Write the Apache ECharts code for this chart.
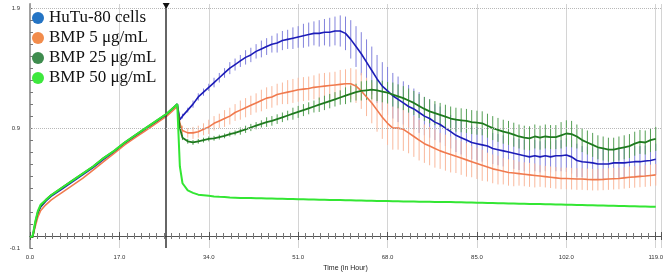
<!DOCTYPE html>
<html>
<head>
<meta charset="utf-8" />
<title>Normalized Cell Index</title>
<script src="https://cdn.jsdelivr.net/npm/echarts@6/dist/echarts.min.js"></script>
</head>
<body style="margin:0">
<div id="main" style="width:663px;height:273px"></div>
<script type="text/javascript">
// time points (hours)
var hours = [0, 0.5, 1, 1.5, 2, 3, 4, 5, 6, 8, 10, 12, 14, 16, 18, 20, 22, 24, 26, 27, 28, 28.5,
  29, 30, 31, 32, 33, 34, 35, 36, 37, 38, 39, 40, 41, 42, 43, 44, 45, 46, 47, 48,
  49, 50, 51, 52, 53, 54, 55, 56, 57, 58, 59, 60, 61, 62, 63, 64, 65, 66, 67, 68,
  69, 70, 71, 72, 73, 74, 75, 76, 77, 78, 79, 80, 81, 82, 83, 84, 85, 86, 87, 88,
  89, 90, 91, 92, 93, 94, 95, 96, 97, 98, 99, 100, 101, 102, 103, 104, 105, 106, 107, 108,
  109, 110, 111, 112, 113, 114, 115, 116, 117, 118, 119];

var hutu = [-0.01, -0.01, 0.10, 0.19, 0.24, 0.29, 0.33, 0.36, 0.39, 0.45, 0.51, 0.57, 0.64, 0.70, 0.77, 0.83, 0.89, 0.95, 1.01, 1.05, 1.10, 0.97,
  1.00, 1.05, 1.10, 1.16, 1.20, 1.24, 1.28, 1.32, 1.36, 1.40,
  1.43, 1.46, 1.49, 1.51, 1.54, 1.56, 1.58, 1.60, 1.61, 1.63,
  1.64, 1.65, 1.66, 1.67, 1.68, 1.69, 1.69, 1.70, 1.70, 1.71,
  1.71, 1.69, 1.64, 1.58, 1.52, 1.45, 1.38, 1.31, 1.25, 1.21,
  1.17, 1.14, 1.11, 1.08, 1.06, 1.03, 1.00, 0.98, 0.95, 0.93,
  0.90, 0.87, 0.84, 0.82, 0.80, 0.78, 0.77, 0.76, 0.75, 0.73,
  0.72, 0.71, 0.70, 0.69, 0.68, 0.67, 0.66, 0.67, 0.66, 0.67,
  0.66, 0.67, 0.67, 0.675, 0.66, 0.63, 0.62, 0.615, 0.61, 0.60,
  0.60, 0.60, 0.61, 0.61, 0.61, 0.615, 0.62, 0.62, 0.625, 0.63, 0.64];
// error half-widths, from 29 h on
var hutuErr = [0.02, 0.02, 0.03, 0.03, 0.03, 0.03, 0.04, 0.04, 0.04, 0.05,
  0.05, 0.05, 0.06, 0.06, 0.06, 0.07, 0.07, 0.07, 0.08, 0.08,
  0.08, 0.09, 0.09, 0.10, 0.10, 0.10, 0.11, 0.11, 0.12, 0.12,
  0.13, 0.14, 0.16, 0.17, 0.18, 0.19, 0.20, 0.20, 0.20, 0.20,
  0.19, 0.19, 0.18, 0.18, 0.17, 0.17, 0.16, 0.16, 0.15, 0.15,
  0.15, 0.14, 0.14, 0.14, 0.14, 0.14, 0.14, 0.14, 0.13, 0.13,
  0.13, 0.13, 0.13, 0.13, 0.13, 0.13, 0.13, 0.13, 0.13, 0.13,
  0.13, 0.13, 0.13, 0.14, 0.14, 0.14, 0.13, 0.13, 0.13, 0.13,
  0.13, 0.13, 0.13, 0.13, 0.13, 0.13, 0.13, 0.13, 0.13, 0.13, 0.13];

var bmp5 = [-0.01, -0.01, 0.08, 0.16, 0.21, 0.26, 0.30, 0.33, 0.36, 0.42, 0.48, 0.55, 0.62, 0.69, 0.76, 0.82, 0.88, 0.94, 1.00, 1.04, 1.08, 0.94,
  0.88, 0.86, 0.86, 0.87, 0.89, 0.91, 0.94, 0.96, 0.98, 1.00,
  1.03, 1.05, 1.07, 1.09, 1.11, 1.13, 1.15, 1.16, 1.18, 1.19,
  1.20, 1.21, 1.22, 1.225, 1.23, 1.24, 1.245, 1.25, 1.255, 1.26,
  1.265, 1.27, 1.27, 1.25, 1.21, 1.16, 1.11, 1.05, 0.99, 0.94,
  0.90, 0.90, 0.89, 0.86, 0.83, 0.80, 0.77, 0.75, 0.73, 0.71,
  0.695, 0.68, 0.665, 0.65, 0.635, 0.62, 0.605, 0.59, 0.575, 0.56,
  0.55, 0.54, 0.53, 0.525, 0.52, 0.515, 0.51, 0.505, 0.50, 0.495,
  0.49, 0.485, 0.48, 0.48, 0.478, 0.475, 0.475, 0.472, 0.47, 0.47,
  0.472, 0.475, 0.478, 0.48, 0.485, 0.49, 0.493, 0.497, 0.50, 0.505, 0.51];
var bmp5Err = [0.04, 0.04, 0.05, 0.05, 0.05, 0.06, 0.06, 0.06, 0.07, 0.07,
  0.07, 0.08, 0.08, 0.08, 0.08, 0.09, 0.09, 0.09, 0.09, 0.09,
  0.10, 0.10, 0.10, 0.10, 0.10, 0.10, 0.11, 0.11, 0.11, 0.11,
  0.12, 0.12, 0.13, 0.14, 0.15, 0.16, 0.17, 0.18, 0.18, 0.18,
  0.18, 0.18, 0.18, 0.17, 0.17, 0.17, 0.16, 0.16, 0.16, 0.15,
  0.15, 0.15, 0.14, 0.14, 0.14, 0.13, 0.13, 0.13, 0.12, 0.12,
  0.12, 0.11, 0.11, 0.11, 0.10, 0.10, 0.10, 0.10, 0.09, 0.09,
  0.09, 0.09, 0.09, 0.09, 0.09, 0.09, 0.09, 0.09, 0.09, 0.09,
  0.09, 0.09, 0.09, 0.09, 0.09, 0.09, 0.09, 0.09, 0.09, 0.09, 0.09];

var bmp25 = [-0.01, -0.01, 0.11, 0.20, 0.25, 0.30, 0.34, 0.37, 0.40, 0.46, 0.52, 0.58, 0.65, 0.71, 0.78, 0.84, 0.90, 0.96, 1.02, 1.06, 1.10, 0.90,
  0.82, 0.79, 0.78, 0.79, 0.80, 0.81, 0.815, 0.825, 0.835, 0.85,
  0.86, 0.875, 0.89, 0.905, 0.92, 0.935, 0.95, 0.96, 0.975, 0.99,
  1.005, 1.02, 1.035, 1.05, 1.065, 1.08, 1.095, 1.11, 1.125, 1.14,
  1.155, 1.17, 1.185, 1.20, 1.21, 1.215, 1.22, 1.215, 1.205, 1.195,
  1.18, 1.165, 1.15, 1.13, 1.11, 1.085, 1.06, 1.04, 1.025, 1.01,
  0.995, 0.98, 0.97, 0.965, 0.96, 0.95, 0.945, 0.94, 0.92, 0.90,
  0.885, 0.87, 0.86, 0.845, 0.83, 0.82, 0.815, 0.83, 0.82, 0.83,
  0.825, 0.825, 0.84, 0.855, 0.85, 0.83, 0.80, 0.78, 0.76, 0.74,
  0.73, 0.72, 0.72, 0.73, 0.74, 0.75, 0.77, 0.785, 0.78, 0.80, 0.81];
var bmp25Err = [0.02, 0.02, 0.02, 0.02, 0.02, 0.02, 0.02, 0.02, 0.02, 0.02,
  0.02, 0.03, 0.03, 0.03, 0.03, 0.03, 0.04, 0.04, 0.04, 0.04,
  0.04, 0.05, 0.05, 0.05, 0.05, 0.05, 0.06, 0.06, 0.06, 0.06,
  0.06, 0.07, 0.07, 0.07, 0.08, 0.08, 0.08, 0.09, 0.09, 0.09,
  0.10, 0.10, 0.10, 0.10, 0.10, 0.10, 0.10, 0.10, 0.10, 0.10,
  0.10, 0.10, 0.10, 0.10, 0.10, 0.10, 0.10, 0.10, 0.10, 0.10,
  0.10, 0.10, 0.10, 0.10, 0.10, 0.10, 0.10, 0.10, 0.10, 0.10,
  0.10, 0.10, 0.11, 0.11, 0.11, 0.10, 0.10, 0.10, 0.10, 0.10,
  0.10, 0.10, 0.10, 0.10, 0.10, 0.10, 0.10, 0.10, 0.10, 0.10, 0.10];

var bmp50 = [-0.01, 0.00, 0.12, 0.21, 0.26, 0.30, 0.34, 0.37, 0.40, 0.46, 0.52, 0.58, 0.65, 0.71, 0.78, 0.84, 0.90, 0.96, 1.02, 1.06, 1.10, 0.58,
  0.44, 0.38, 0.36, 0.345, 0.34, 0.335, 0.33, 0.327, 0.325, 0.322,
  0.32, 0.318, 0.317, 0.316, 0.315, 0.314, 0.313, 0.312, 0.311, 0.31,
  0.309, 0.308, 0.307, 0.306, 0.305, 0.304, 0.303, 0.302, 0.301, 0.30,
  0.30, 0.299, 0.298, 0.297, 0.296, 0.295, 0.294, 0.293, 0.292, 0.291,
  0.29, 0.289, 0.288, 0.287, 0.287, 0.286, 0.285, 0.285, 0.284, 0.284,
  0.283, 0.283, 0.282, 0.281, 0.28, 0.279, 0.278, 0.277, 0.276, 0.275,
  0.274, 0.273, 0.272, 0.271, 0.27, 0.269, 0.268, 0.267, 0.266, 0.265,
  0.264, 0.263, 0.262, 0.261, 0.26, 0.259, 0.258, 0.257, 0.256, 0.255,
  0.254, 0.253, 0.252, 0.251, 0.25, 0.249, 0.248, 0.247, 0.246, 0.245, 0.244];

var seriesNames = ['HuTu-80 cells', 'BMP 5 μg/mL', 'BMP 25 μg/mL', 'BMP 50 μg/mL'];
var yLabelValues = [-0.1, 0.9, 1.9];
var yTickValues = [-0.1, 0, 0.1, 0.2, 0.3, 0.4, 0.5, 0.6, 0.7, 0.8, 0.9, 1.0,
  1.1, 1.2, 1.3, 1.4, 1.5, 1.6, 1.7, 1.8, 1.9];
var treatmentHour = 25.9;

var lineColors = ['#1c1cb8', '#f07a4e', '#1e7a1e', '#33e633'];
var errColors = ['#8282dc', '#f9b89c', '#559f55'];
var legendColors = ['#2474c4', '#f28c4c', '#3e8c4e', '#3de83d'];

function pairs(vals) {
  return hours.map(function (h, i) { return [h, vals[i]]; });
}

function bars(vals, errs) {
  var off = hours.length - errs.length;
  return errs.map(function (e, i) { return [hours[off + i], vals[off + i], e]; });
}

function errSeries(name, vals, errs, color) {
  return {
    type: 'custom',
    name: name,
    silent: true,
    z: 1,
    data: bars(vals, errs),
    encode: { x: 0, y: 1 },
    renderItem: function (params, api) {
      var lo = api.coord([api.value(0), api.value(1) - api.value(2)]);
      var hi = api.coord([api.value(0), api.value(1) + api.value(2)]);
      return {
        type: 'line',
        shape: { x1: lo[0], y1: lo[1], x2: hi[0], y2: hi[1] },
        style: { stroke: color, lineWidth: 1 }
      };
    }
  };
}

function lineSeries(idx, vals, width) {
  return {
    type: 'line',
    name: seriesNames[idx],
    data: pairs(vals),
    showSymbol: false,
    z: 2 + idx,
    lineStyle: { color: lineColors[idx], width: width },
    itemStyle: { color: lineColors[idx] }
  };
}

var chart = echarts.init(document.getElementById('main'));
var numFmt = function (v) { return v.toFixed(1); };

var option = {
  animation: false,
  backgroundColor: '#fff',
  grid: { left: 30, right: 2, top: 4, bottom: 25, outerBoundsMode: 'none', containLabel: false },
  legend: {
    orient: 'vertical',
    left: 32,
    top: 8,
    padding: 0,
    itemGap: 0,
    itemWidth: 12,
    itemHeight: 12,
    icon: 'circle',
    textStyle: { fontFamily: 'Liberation Serif', fontSize: 17, color: '#111', lineHeight: 20 },
    data: seriesNames.map(function (n, i) {
      return { name: n, itemStyle: { color: legendColors[i] } };
    })
  },
  xAxis: [
    {
      type: 'value', min: 0, max: 120, interval: 17, position: 'bottom',
      name: 'Time (in Hour)', nameLocation: 'middle', nameGap: 13,
      nameTextStyle: { fontSize: 7, color: '#222' },
      axisLine: { lineStyle: { color: '#555' } },
      axisTick: { inside: true, length: 4, lineStyle: { color: '#555' } },
      minorTick: { show: true, splitNumber: 12, length: 3, lineStyle: { color: '#777' } },
      axisLabel: { fontSize: 6, color: '#333', margin: 6, formatter: numFmt, showMaxLabel: false },
      splitLine: { show: true, lineStyle: { color: '#d4d4d4' } }
    },
    {
      type: 'value', min: 0, max: 120, interval: 17, position: 'top',
      axisLine: { lineStyle: { color: '#555' } },
      axisTick: { inside: true, length: 4, lineStyle: { color: '#555' } },
      minorTick: { show: true, splitNumber: 12, length: 3, lineStyle: { color: '#777' } },
      axisLabel: { show: false },
      splitLine: { show: false }
    }
  ],
  yAxis: [
    {
      type: 'value', min: -0.1, max: 1.935, position: 'left',
      name: 'Normalized Cell Index', nameLocation: 'middle', nameGap: 21,
      nameTextStyle: { fontSize: 7, color: '#222' },
      axisLine: { show: true, lineStyle: { color: '#888' } },
      axisTick: { show: true, inside: true, length: 3, customValues: yTickValues, lineStyle: { color: '#777' } },
      axisLabel: { fontSize: 6, color: '#333', margin: 10, customValues: yLabelValues, formatter: numFmt },
      splitLine: { show: false }
    },
    {
      type: 'value', min: -0.1, max: 1.935, position: 'right',
      axisLine: { show: true, lineStyle: { color: '#a0a0a0', width: 2 } },
      axisTick: { show: false },
      axisLabel: { show: false },
      splitLine: { show: false }
    }
  ],
  series: [
    errSeries('hutuErr', hutu, hutuErr, errColors[0]),
    errSeries('bmp5Err', bmp5, bmp5Err, errColors[1]),
    errSeries('bmp25Err', bmp25, bmp25Err, errColors[2]),
    lineSeries(0, hutu, 1.6),
    lineSeries(1, bmp5, 1.6),
    lineSeries(2, bmp25, 1.8),
    Object.assign(lineSeries(3, bmp50, 2), {
      markLine: {
        silent: true,
        symbol: 'none',
        label: { show: false },
        data: [
          { xAxis: treatmentHour, lineStyle: { color: '#333', width: 1.5, type: 'solid' } },
          { yAxis: 0.9, lineStyle: { color: '#b8b8b8', width: 1, type: 'dotted' } },
          { yAxis: 1.9, lineStyle: { color: '#b8b8b8', width: 1, type: 'dotted' } }
        ]
      },
      markPoint: {
        silent: true,
        symbol: 'triangle',
        symbolRotate: 180,
        symbolSize: [7, 6],
        symbolOffset: [0, 2],
        label: { show: false },
        itemStyle: { color: '#111' },
        data: [{ coord: [treatmentHour, 1.935] }]
      }
    })
  ]
};

chart.setOption(option);
</script>
</body>
</html>
